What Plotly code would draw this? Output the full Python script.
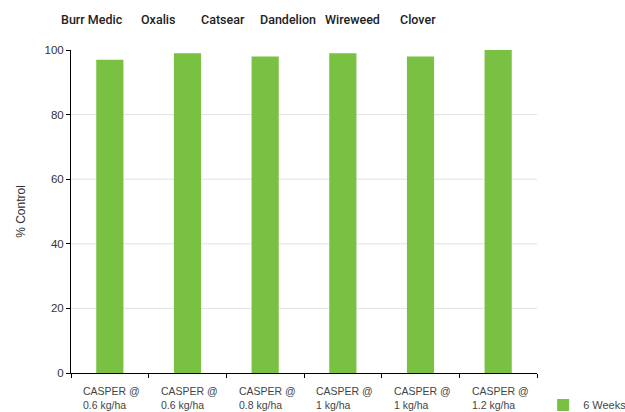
import plotly.graph_objects as go

weeds = ["Burr Medic", "Oxalis", "Catsear", "Dandelion", "Wireweed", "Clover"]
treatments = ["CASPER @<br>0.6 kg/ha", "CASPER @<br>0.6 kg/ha", "CASPER @<br>0.8 kg/ha",
              "CASPER @<br>1 kg/ha", "CASPER @<br>1 kg/ha", "CASPER @<br>1.2 kg/ha"]
control_6wk = [97, 99, 98, 99, 98, 100]
y_ticks = [0, 20, 40, 60, 80, 100]
grid_vals = [20, 40, 60, 80]
weed_label_x = [0.046, 0.187, 0.326, 0.466, 0.605, 0.745]

GREEN = "#7AC143"
FONT = "Liberation Sans, Arial, sans-serif"
TOPFONT = "Roboto, Liberation Sans, Arial, sans-serif"

fig = go.Figure()
fig.add_trace(go.Bar(x=weeds, y=control_6wk, name="6 Weeks", marker_color=GREEN,
                     marker_line_width=0, showlegend=True))

shapes = [dict(type="line", xref="paper", yref="y", x0=0, x1=1, y0=g, y1=g,
               line=dict(color="#e2e2e2", width=1), layer="below") for g in grid_vals]

annotations = []
for w, t in zip(weeds, treatments):
    annotations.append(dict(x=w, xref="x", y=0, yref="y", yshift=-10, xshift=2, text=t,
                            showarrow=False, align="left", xanchor="center", yanchor="top",
                            font=dict(family=FONT, size=10.5, color="#444")))
for w, px in zip(weeds, weed_label_x):
    annotations.append(dict(x=px, xref="paper", y=1.094, yref="paper", text=w,
                            showarrow=False, xanchor="center", yanchor="middle",
                            font=dict(family=TOPFONT, size=12.5, color="#222", weight=500)))

fig.update_layout(
    width=625, height=412,
    margin=dict(l=71, r=88, t=50, b=39, autoexpand=False),
    paper_bgcolor="white", plot_bgcolor="white",
    bargap=0.65,
    font=dict(family=FONT, color="#333"),
    shapes=shapes, annotations=annotations,
    legend=dict(xref="container", yref="container", x=0.869, y=0.017,
                xanchor="left", yanchor="middle",
                font=dict(family=FONT, size=11, color="#444"),
                bgcolor="rgba(0,0,0,0)"),
    xaxis=dict(type="category", showticklabels=False, showline=True, linecolor="black",
               linewidth=1, ticks="outside", ticklen=4, tickcolor="black",
               tickson="boundaries", showgrid=False, zeroline=False),
    yaxis=dict(range=[0, 100], tickvals=y_ticks, showline=True, linecolor="black",
               linewidth=1, ticks="outside", ticklen=4, tickcolor="black",
               showgrid=False, zeroline=False,
               tickfont=dict(family=FONT, size=11.5, color="#333"),
               title=dict(text="% Control", standoff=16,
                          font=dict(family=FONT, size=12, color="#333"))),
)

fig.write_html("out.html")
